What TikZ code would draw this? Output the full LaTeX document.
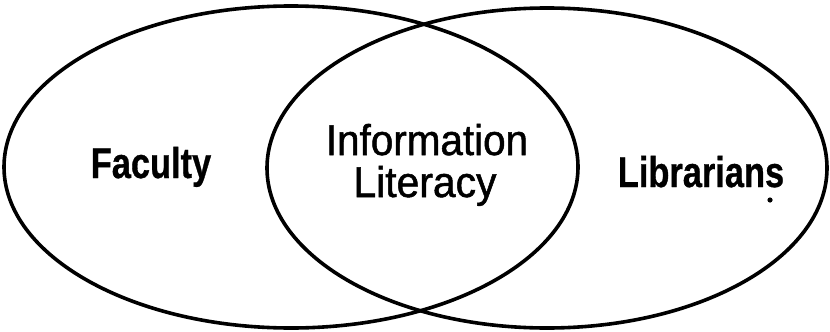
\documentclass[tikz,border=0pt]{standalone}
\usepackage{fontspec}
\setmainfont{Liberation Sans}
\newfontfamily\heavyregular[FakeBold=1.2]{Liberation Sans}
\newfontfamily\heavybold[FakeBold=0.8]{Liberation Sans Bold}
\begin{document}
\begin{tikzpicture}[x=1pt,y=-1pt,
  venn/.style={line width=3.6pt,draw=black},
  boldlabel/.style={anchor=base,inner sep=0pt,font=\heavybold\fontsize{43}{43}\selectfont},
  midlabel/.style={anchor=base,inner sep=0pt,font=\heavyregular\fontsize{43}{43}\selectfont}]
\useasboundingbox (0,0) rectangle (830,332);
\draw[venn] (291,167) ellipse [x radius=287, y radius=161];
\draw[venn] (547,168) ellipse [x radius=280, y radius=160];
\node[boldlabel] (fac) at (151,178) {\scalebox{0.8}[1]{Faculty}};
\node[midlabel] (info) at (427,155) {\scalebox{0.94}[1]{Information}};
\node[midlabel] (lit) at (425,197) {\scalebox{0.95}[1]{Literacy}};
\node[boldlabel] (lib) at (701,187) {\scalebox{0.8}[1]{Librarians}};
\fill (770,200) circle [radius=2.6];
\end{tikzpicture}
\end{document}
